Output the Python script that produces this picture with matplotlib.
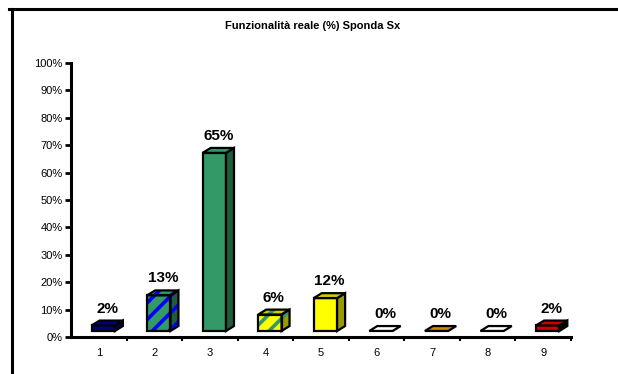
import matplotlib
matplotlib.use("Agg")
import matplotlib.pyplot as plt
from matplotlib.patches import Polygon
from matplotlib.lines import Line2D

plt.rcParams['font.family'] = ['Liberation Sans', 'DejaVu Sans']
plt.rcParams['hatch.linewidth'] = 2.6

title = "Funzionalità reale (%) Sponda Sx"
categories = ['1', '2', '3', '4', '5', '6', '7', '8', '9']
values = [2, 13, 65, 6, 12, 0, 0, 0, 2]
labels = ['2%', '13%', '65%', '6%', '12%', '0%', '0%', '0%', '2%']

front_colors = ['#000080', '#339966', '#339966', '#ffff00', '#ffff00',
                '#ffffff', '#cc8800', '#ffffff', '#cc0000']
side_colors = ['#000050', '#1f5c3d', '#1f5c3d', '#999900', '#999900',
               '#cc9900', '#996600', '#cc0000', '#000000']
top_colors = ['#000080', '#339966', '#339966', '#cccc00', '#cccc00',
              '#ffffff', '#cc8800', '#ffffff', '#cc0000']
hatches = [None, '//', None, '//', None, None, None, None, None]
hatch_colors = [None, '#0000ff', None, '#339966', None, None, None, None, None]

fig = plt.figure(figsize=(6.18, 3.74), dpi=100)
W, H = 618, 374
ax = fig.add_axes([71 / W, 37 / H, 500 / W, 274 / H])
ax.set_xlim(0.5, 9.5)
ax.set_ylim(0, 100)

# pseudo-3D column geometry (data units)
dx, dy = 0.144, 1.8
base = 2.2
off, hw = 0.08, 0.21


def face(pts, fc, hatch=None, hcol=None):
    if hatch:
        ax.add_patch(Polygon(pts, closed=True, facecolor=fc, edgecolor=hcol,
                             hatch=hatch, lw=0, clip_on=False, zorder=3))
        ax.add_patch(Polygon(pts, closed=True, fill=False, edgecolor='black',
                             lw=1.6, joinstyle='miter', clip_on=False, zorder=4))
    else:
        ax.add_patch(Polygon(pts, closed=True, facecolor=fc, edgecolor='black',
                             lw=1.6, joinstyle='miter', clip_on=False, zorder=3))


for i, v in enumerate(values):
    x = i + 1
    x0, x1 = x + off - hw, x + off + hw
    y0, y1 = base, base + v
    front = [(x0, y0), (x1, y0), (x1, y1), (x0, y1)]
    side = [(x1, y0), (x1 + dx, y0 + dy), (x1 + dx, y1 + dy), (x1, y1)]
    top = [(x0, y1), (x1, y1), (x1 + dx, y1 + dy), (x0 + dx, y1 + dy)]
    if v > 0:
        face(front, front_colors[i], hatches[i], hatch_colors[i])
        face(side, side_colors[i], hatches[i], hatch_colors[i])
    face(top, top_colors[i], hatches[i], hatch_colors[i])
    ax.text(x + off + dx / 2, y1 + dy + 1.8, labels[i], ha='center', va='bottom',
            fontsize=11, fontweight='bold')

ax.set_yticks(range(0, 101, 10))
ax.set_yticklabels([f'{t}%' for t in range(0, 101, 10)], fontsize=8)
ax.set_xticks(range(1, 10))
ax.set_xticklabels(categories, fontsize=8)
ax.set_xticks([k + 0.5 for k in range(1, 10)], minor=True)
ax.tick_params(axis='y', direction='out', length=4, width=2, pad=2)
ax.tick_params(axis='x', which='major', length=0, pad=8)
ax.tick_params(axis='x', which='minor', direction='out', length=3, width=1.5)

for s in ['top', 'right']:
    ax.spines[s].set_visible(False)
ax.spines['left'].set_linewidth(2.2)
ax.spines['bottom'].set_linewidth(2.2)
ax.patch.set_alpha(0)

fig.text(313 / W, 1 - 26 / H, title, ha='center', va='center',
         fontsize=8, fontweight='bold')

# outer chart frame
fig.add_artist(Line2D([9 / W, 1], [1 - 8.5 / H, 1 - 8.5 / H],
                      transform=fig.transFigure, color='black', lw=2.2))
fig.add_artist(Line2D([11.5 / W, 11.5 / W], [0, 1 - 8.5 / H],
                      transform=fig.transFigure, color='black', lw=2.2))

fig.savefig('out.png', dpi=100)
